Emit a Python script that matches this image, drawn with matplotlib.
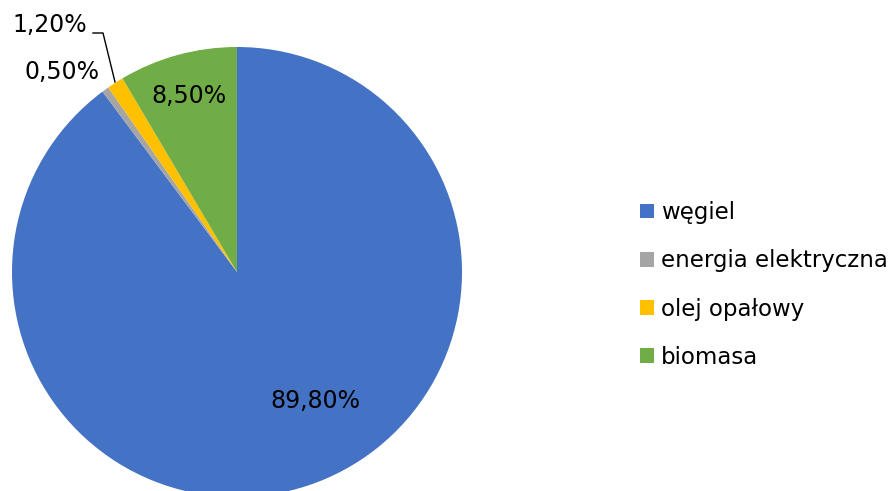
import matplotlib
matplotlib.use('Agg')
import matplotlib.pyplot as plt
import numpy as np
from matplotlib.patches import Patch

categories = ['węgiel', 'energia elektryczna', 'olej opałowy', 'biomasa']
shares = [89.8, 0.5, 1.2, 8.5]
colors = ['#4472C4', '#A5A5A5', '#FFC000', '#70AD47']


def fmt(v):
    return f"{v:.2f}%".replace('.', ',')


fig = plt.figure(figsize=(8.9, 4.91), dpi=100)
ax = fig.add_axes([0, 0, 1, 1])

cx, cy, r = 237, 219, 225
wedges, _ = ax.pie(shares, colors=colors, startangle=90, counterclock=False,
                   center=(cx, cy), radius=r, frame=True,
                   wedgeprops=dict(linewidth=0))
ax.set_xlim(0, 890)
ax.set_ylim(0, 491)
ax.set_aspect('equal')
ax.axis('off')

fs = 17

# labels inside the two large slices
for w, v, dist, shift in [(wedges[0], shares[0], 0.67, 13), (wedges[3], shares[3], 0.81, 0)]:
    mid = np.deg2rad((w.theta1 + w.theta2) / 2 + shift)
    ax.text(cx + dist * r * np.cos(mid), cy + dist * r * np.sin(mid), fmt(v),
            ha='center', va='center', fontsize=fs)

# small slices get labels outside, one with a leader line
ax.text(100, 491 - 72, fmt(shares[1]), ha='right', va='center', fontsize=fs)
ax.text(87, 491 - 25, fmt(shares[2]), ha='right', va='center', fontsize=fs)
ax.plot([93, 103, 115], [491 - 33, 491 - 33, 491 - 82], color='black', lw=1)

handles = [Patch(facecolor=c, edgecolor='none') for c in colors]
ax.legend(handles, categories, loc='center left', bbox_to_anchor=(640 / 890, 1 - 285 / 491),
          frameon=False, fontsize=16.5, handlelength=0.6, handleheight=0.6,
          handletextpad=0.33, labelspacing=1.1, borderaxespad=0, borderpad=0)

fig.savefig('out.png', dpi=100)
